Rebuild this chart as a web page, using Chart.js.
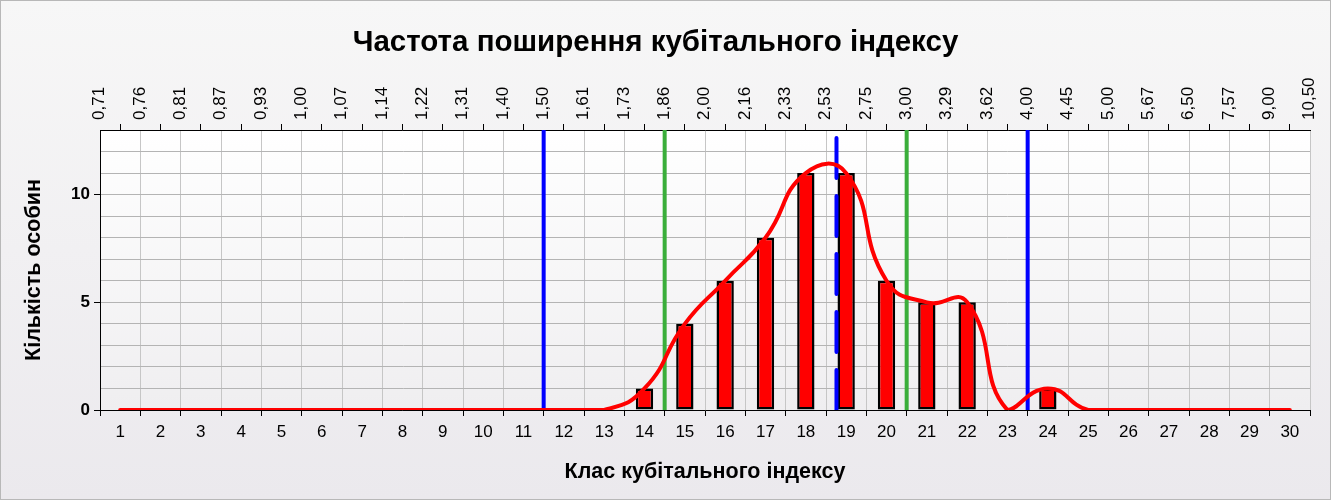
<!DOCTYPE html>
<html lang="uk">
<head>
<meta charset="utf-8">
<title>Частота поширення кубітального індексу</title>
<script src="https://cdn.jsdelivr.net/npm/chart.js@4.4.1/dist/chart.umd.min.js"></script>
<style>
    html, body { margin: 0; padding: 0; }
    body { width: 1331px; height: 500px; overflow: hidden; }
    #wrap {
        width: 1331px;
        height: 500px;
        box-sizing: border-box;
        border: 1px solid #b8b8b8;
        background: linear-gradient(to bottom, #f7f7f7, #ebe9ed);
    }
</style>
</head>
<body>
<div id="wrap"><canvas id="cubitalChart"></canvas></div>
<script>
// Класи кубітального індексу (нижня вісь)
const classes = [1, 2, 3, 4, 5, 6, 7, 8, 9, 10, 11, 12, 13, 14, 15,
                 16, 17, 18, 19, 20, 21, 22, 23, 24, 25, 26, 27, 28, 29, 30];

// Кількість особин у кожному класі
const counts = [0, 0, 0, 0, 0, 0, 0, 0, 0, 0, 0, 0, 0, 1, 4,
                6, 8, 11, 11, 6, 5, 5, 0, 1, 0, 0, 0, 0, 0, 0];

// Межі класів - значення кубітального індексу (верхня вісь)
const boundLabels = ['0,71', '0,76', '0,81', '0,87', '0,93', '1,00', '1,07', '1,14',
                     '1,22', '1,31', '1,40', '1,50', '1,61', '1,73', '1,86', '2,00',
                     '2,16', '2,33', '2,53', '2,75', '3,00', '3,29', '3,62', '4,00',
                     '4,45', '5,00', '5,67', '6,50', '7,57', '9,00', '10,50'];

// Вертикальні лінії (позиція на шкалі класів)
const blueLines = [11.5, 23.5];    // 1,50 та 4,00
const greenLines = [14.5, 20.5];   // 1,86 та 3,00
const meanLine = 18.76;            // середнє значення
const meanTop = 12.7;

const yMax = 13;

/**
 * Заливка області графіка градієнтом
 */
const plotBackground = {
    id: 'plotBackground',
    beforeDraw(chart) {
        const { ctx, chartArea: a } = chart;
        const g = ctx.createLinearGradient(0, a.top, 0, a.bottom);
        g.addColorStop(0, '#ffffff');
        g.addColorStop(1, '#efeef0');
        ctx.save();
        ctx.fillStyle = g;
        ctx.fillRect(a.left, a.top, a.right - a.left, a.bottom - a.top);
        ctx.restore();
    }
};

function verticalLine(x, top, color, dash, order) {
    return {
        type: 'line',
        data: [{ x: x, y: 0 }, { x: x, y: top }],
        borderColor: color,
        borderWidth: 4,
        borderDash: dash || [],
        borderCapStyle: dash ? 'round' : 'butt',
        tension: 0,
        pointRadius: 0,
        order: order
    };
}

Chart.defaults.font.family = "'Liberation Sans', Arial, sans-serif";
Chart.defaults.color = '#000';

const ctx = document.getElementById('cubitalChart');

new Chart(ctx, {
    type: 'bar',
    data: {
        datasets: [
            {
                type: 'line',
                label: 'Крива',
                data: classes.map((c, i) => ({ x: c, y: counts[i] })),
                borderColor: '#ff0000',
                borderWidth: 4,
                borderCapStyle: 'round',
                tension: 0.5,
                pointRadius: 0,
                order: 0
            },
            {
                label: 'Кількість особин',
                data: classes.map((c, i) => ({ x: c, y: counts[i] })),
                backgroundColor: '#ff0000',
                borderColor: '#000000',
                borderWidth: 2.5,
                borderSkipped: false,
                barPercentage: 0.43,
                categoryPercentage: 1,
                order: 2
            },
            ...blueLines.map(v => verticalLine(v, yMax, '#0000ff', null, 3)),
            ...greenLines.map(v => verticalLine(v, yMax, '#3aae3a', null, 3)),
            verticalLine(meanLine, meanTop, '#0000ff', [40, 18], 1)
        ]
    },
    options: {
        responsive: true,
        maintainAspectRatio: false,
        animation: false,
        layout: { padding: { left: 0, right: 20, top: 0, bottom: 0 } },
        plugins: {
            legend: { display: false },
            tooltip: { enabled: false },
            title: {
                display: true,
                text: 'Частота поширення кубітального індексу',
                font: { size: 29.5, weight: 'bold' },
                color: '#000',
                padding: { top: 24, bottom: 0 }
            }
        },
        scales: {
            x: {
                type: 'linear',
                position: 'bottom',
                min: 0.5,
                max: 30.5,
                offset: false,
                afterBuildTicks: axis => {
                    axis.ticks = classes.map(v => ({ value: v }));
                },
                afterFit: axis => { axis.height = 89; },
                ticks: {
                    autoSkip: false,
                    maxRotation: 0,
                    font: { size: 17 },
                    padding: 6
                },
                grid: {
                    offset: true,
                    color: '#c6c6c6',
                    tickColor: '#000',
                    tickLength: 6
                },
                border: { color: '#000', width: 1 },
                title: {
                    display: true,
                    text: 'Клас кубітального індексу',
                    font: { size: 21.5, weight: 'bold' },
                    padding: { bottom: 14 }
                }
            },
            x2: {
                type: 'linear',
                position: 'top',
                min: 0.5,
                max: 30.5,
                offset: false,
                afterBuildTicks: axis => {
                    axis.ticks = boundLabels.map((s, i) => ({ value: 0.5 + i }));
                },
                afterFit: axis => { axis.height = 69.6; },
                ticks: {
                    autoSkip: false,
                    minRotation: 90,
                    maxRotation: 90,
                    font: { size: 17 },
                    padding: 4,
                    labelOffset: 20,
                    callback: (value, index) => boundLabels[index]
                },
                grid: {
                    drawOnChartArea: false,
                    color: '#000',
                    tickLength: 6
                },
                border: { color: '#000', width: 1 }
            },
            y: {
                min: 0,
                max: yMax,
                afterFit: axis => { axis.width = 99; },
                ticks: {
                    stepSize: 1,
                    autoSkip: false,
                    font: { size: 17, weight: 'bold' },
                    padding: 4,
                    callback: v => (v % 5 === 0 ? v : '')
                },
                grid: {
                    color: '#b4b4b4',
                    tickColor: c => (c.tick && c.tick.value % 5 === 0 ? '#000' : 'rgba(0,0,0,0)'),
                    tickLength: 6
                },
                border: { color: '#000', width: 1 },
                title: {
                    display: true,
                    text: 'Кількість особин',
                    font: { size: 21.5, weight: 'bold' },
                    padding: { top: 20 }
                }
            }
        }
    },
    plugins: [plotBackground]
});
</script>
</body>
</html>
